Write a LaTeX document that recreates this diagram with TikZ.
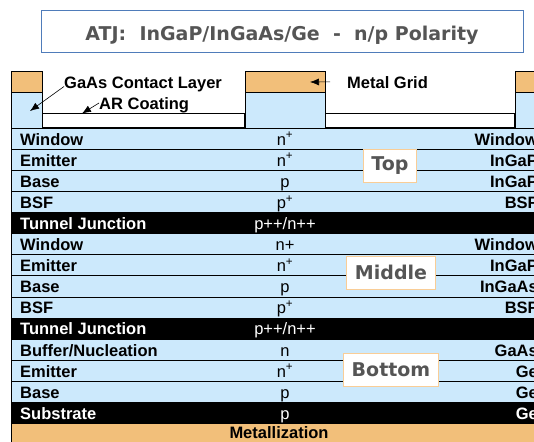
\documentclass[tikz,border=0pt]{standalone}
\usepackage{fontspec}
\setmainfont{Liberation Sans}
\newfontfamily\verdanalike{DejaVu Sans}
\usepackage{tikz}
\usetikzlibrary{positioning,arrows.meta}
\definecolor{cellblue}{RGB}{204,233,252}
\definecolor{metalorange}{RGB}{242,191,122}
\definecolor{titleblue}{RGB}{79,124,186}
\definecolor{tagedge}{RGB}{249,205,150}
\definecolor{taggray}{RGB}{85,85,85}
\tikzset{
  layer/.style={draw=black, line width=0.6pt, fill=cellblue, minimum width=534pt, minimum height=21.1pt, inner sep=0pt, outer sep=0pt},
  junction/.style={layer, fill=black},
  metalbar/.style={draw=black, line width=0.6pt, fill=metalorange, minimum height=21pt, inner sep=0pt, outer sep=0pt},
  gaascap/.style={draw=black, line width=0.6pt, fill=cellblue, minimum height=35.5pt, inner sep=0pt, outer sep=0pt},
  arcoat/.style={draw=black, line width=1.2pt, fill=white, minimum height=14.5pt, inner sep=0pt, outer sep=0pt}
}

\begin{document}
\begin{tikzpicture}[
    x=1pt, y=-1pt,
    lefttext/.style={anchor=west, inner sep=0pt, text height=13pt, text depth=0pt, font=\bfseries\fontsize{16.5}{18}\selectfont}, % layer names
    dopetext/.style={inner sep=0pt, text height=13pt, text depth=0pt, font=\fontsize{16.5}{18}\selectfont}, % doping column
    righttext/.style={anchor=east, inner sep=0pt, text height=13pt, text depth=0pt, font=\bfseries\fontsize{16.5}{18}\selectfont}, % materials
    callout/.style={-{Latex[length=9pt,width=7pt]}, line width=0.6pt},
    celltag/.style={draw=tagedge, line width=1pt, fill=white, text=taggray, font=\verdanalike\bfseries\fontsize{19}{22}\selectfont, inner xsep=8pt, inner ysep=0pt, minimum height=33pt},
    titlebox/.style={draw=titleblue, line width=1pt, minimum width=482pt, minimum height=42pt, text height=17.4pt, text depth=0pt, text=taggray, font=\verdanalike\bfseries\fontsize{19}{22}\selectfont}
]
    \useasboundingbox (0,0) rectangle (534,441);
    \clip (0,0) rectangle (534,441);

    % Title
    \node[titlebox] (title) at (282,31.7) {ATJ:\ \ InGaP/InGaAs/Ge\ \ -\ \ n/p Polarity};

    % AR coating and metal grid
    \node[arcoat, minimum width=203pt] (arL) at (143.5,120.75) {};
    \node[arcoat, minimum width=190pt] (arR) at (420,120.75) {};
    \node[metalbar, minimum width=31pt] (metalL) at (26.5,82) {};
    \node[gaascap, minimum width=31pt, below=0pt of metalL] (capL) {};
    \node[metalbar, minimum width=80pt] (metalM) at (285,82) {};
    \node[gaascap, minimum width=80pt, below=0pt of metalM] (capM) {};
    \node[metalbar, minimum width=45pt] (metalR) at (537.5,82) {};
    \node[gaascap, minimum width=45pt, below=0pt of metalR] (capR) {};

    % Define layers
    \node[layer] (winT) at (278,138.55) {};
    \node[layer, below=0pt of winT] (emT) {};
    \node[layer, below=0pt of emT] (baseT) {};
    \node[layer, below=0pt of baseT] (bsfT) {};
    \node[junction, below=0pt of bsfT] (tjT) {};
    \node[layer, below=0pt of tjT] (winM) {};
    \node[layer, below=0pt of winM] (emM) {};
    \node[layer, below=0pt of emM] (baseM) {};
    \node[layer, below=0pt of baseM] (bsfM) {};
    \node[junction, below=0pt of bsfM] (tjM) {};
    \node[layer, below=0pt of tjM] (bufB) {};
    \node[layer, below=0pt of bufB] (emB) {};
    \node[layer, below=0pt of emB] (baseB) {};
    \node[junction, below=0pt of baseB] (subB) {};
    \node[layer, fill=metalorange, minimum height=19pt, below=0pt of subB] (metal) {};

    % Layer names
    \node[lefttext] (winTl) at ([xshift=9pt]winT.west) {Window};
    \node[lefttext] (emTl) at ([xshift=9pt]emT.west) {Emitter};
    \node[lefttext] (baseTl) at ([xshift=9pt]baseT.west) {Base};
    \node[lefttext] (bsfTl) at ([xshift=9pt]bsfT.west) {BSF};
    \node[lefttext, text=white] (tjTl) at ([xshift=9pt]tjT.west) {Tunnel Junction};
    \node[lefttext] (winMl) at ([xshift=9pt]winM.west) {Window};
    \node[lefttext] (emMl) at ([xshift=9pt]emM.west) {Emitter};
    \node[lefttext] (baseMl) at ([xshift=9pt]baseM.west) {Base};
    \node[lefttext] (bsfMl) at ([xshift=9pt]bsfM.west) {BSF};
    \node[lefttext, text=white] (tjMl) at ([xshift=9pt]tjM.west) {Tunnel Junction};
    \node[lefttext] (bufBl) at ([xshift=9pt]bufB.west) {Buffer/Nucleation};
    \node[lefttext] (emBl) at ([xshift=9pt]emB.west) {Emitter};
    \node[lefttext] (baseBl) at ([xshift=9pt]baseB.west) {Base};
    \node[lefttext, text=white] (subBl) at ([xshift=9pt]subB.west) {Substrate};
    \node[dopetext, font=\bfseries\fontsize{16.5}{18}\selectfont] (metalc) at ([xshift=1pt,yshift=1pt]metal.center) {Metallization};

    % Doping
    \node[dopetext] (winTd) at ([xshift=7pt]winT.center) {n\textsuperscript{+}};
    \node[dopetext] (emTd) at ([xshift=7pt]emT.center) {n\textsuperscript{+}};
    \node[dopetext] (baseTd) at ([xshift=7pt]baseT.center) {p};
    \node[dopetext] (bsfTd) at ([xshift=7pt]bsfT.center) {p\textsuperscript{+}};
    \node[dopetext, text=white] (tjTd) at ([xshift=7pt]tjT.center) {p++/n++};
    \node[dopetext] (winMd) at ([xshift=7pt]winM.center) {n+};
    \node[dopetext] (emMd) at ([xshift=7pt]emM.center) {n\textsuperscript{+}};
    \node[dopetext] (baseMd) at ([xshift=7pt]baseM.center) {p};
    \node[dopetext] (bsfMd) at ([xshift=7pt]bsfM.center) {p\textsuperscript{+}};
    \node[dopetext, text=white] (tjMd) at ([xshift=7pt]tjM.center) {p++/n++};
    \node[dopetext] (bufBd) at ([xshift=7pt]bufB.center) {n};
    \node[dopetext] (emBd) at ([xshift=7pt]emB.center) {n\textsuperscript{+}};
    \node[dopetext] (baseBd) at ([xshift=7pt]baseB.center) {p};
    \node[dopetext, text=white] (subBd) at ([xshift=7pt]subB.center) {p};

    % Materials
    \node[righttext] (winTr) at ([xshift=-7pt]winT.east) {Window};
    \node[righttext] (emTr) at ([xshift=-7pt]emT.east) {InGaP};
    \node[righttext] (baseTr) at ([xshift=-7pt]baseT.east) {InGaP};
    \node[righttext] (bsfTr) at ([xshift=-7pt]bsfT.east) {BSF};
    \node[righttext] (winMr) at ([xshift=-7pt]winM.east) {Window};
    \node[righttext] (emMr) at ([xshift=-7pt]emM.east) {InGaP};
    \node[righttext] (baseMr) at ([xshift=-7pt]baseM.east) {InGaAs};
    \node[righttext] (bsfMr) at ([xshift=-7pt]bsfM.east) {BSF};
    \node[righttext] (bufBr) at ([xshift=-7pt]bufB.east) {GaAs};
    \node[righttext] (emBr) at ([xshift=-7pt]emB.east) {Ge};
    \node[righttext] (baseBr) at ([xshift=-7pt]baseB.east) {Ge};
    \node[righttext, text=white] (subBr) at ([xshift=-7pt]subB.east) {Ge};

    % Sub-cell tags
    \node[celltag] (top) at (390,165.5) {Top};
    \node[celltag] (middle) at (391,272.5) {Middle};
    \node[celltag] (bottom) at (391,369.5) {Bottom};

    % Callouts
    \node[lefttext] (gaasLabel) at (64,81.8) {GaAs Contact Layer};
    \node[lefttext] (arLabel) at (99,103) {AR Coating};
    \node[lefttext] (gridLabel) at (347,81.8) {Metal Grid};
    \coordinate (gaasTip) at (30,111);
    \coordinate (arTip) at (82,113.5);
    \coordinate (gridTip) at (310,82);
    \draw[callout] ([yshift=2pt]gaasLabel.south west) -- (gaasTip);
    \draw[callout] (arLabel.west) -- (arTip);
    \draw[callout, shorten <=17pt] (gridLabel.west) -- (gridTip);

\end{tikzpicture}
\end{document}
